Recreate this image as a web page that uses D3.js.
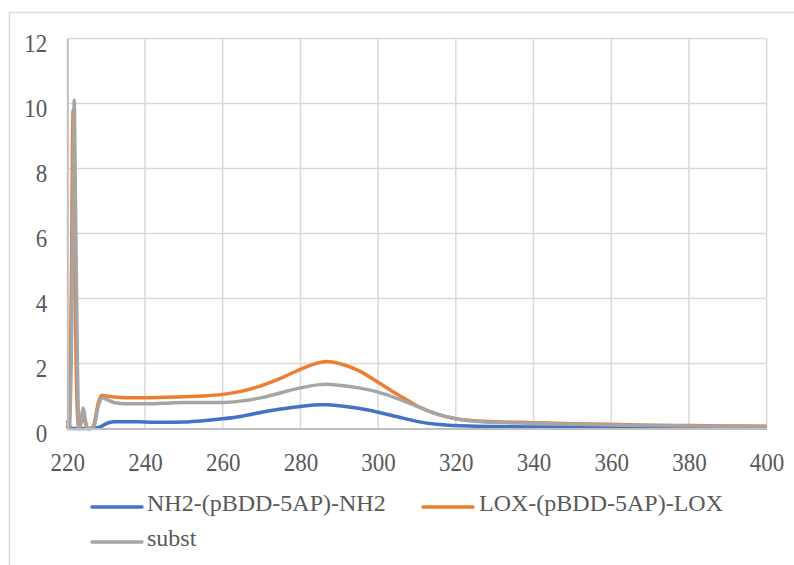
<!DOCTYPE html>
<html>
<head>
<meta charset="utf-8">
<script src="https://cdn.jsdelivr.net/npm/d3@7"></script>
<style>
  body { margin: 0; background: #fff; }
</style>
</head>
<body>
<div id="chart"></div>
<script>
// wavelength (nm)
const wavelengths = [220, 220.5, 221, 221.5, 221.8, 222, 222.6, 223, 223.6, 224.1, 224.6, 225.2, 226, 226.8,
  228, 229, 230, 232, 235, 240, 245, 250, 255, 260, 265, 270, 275, 280, 285, 287, 290, 295,
  300, 305, 310, 315, 320, 325, 330, 340, 350, 360, 370, 380, 390, 400];

const nh2 = [0.25, 0.1, 0, 0, 0, 0, 0, 0, 0, 0, 0, 0, 0, 0.02,
  0.03, 0.08, 0.15, 0.21, 0.21, 0.2, 0.19, 0.2, 0.24, 0.3, 0.38, 0.5, 0.6, 0.68, 0.73, 0.73, 0.7, 0.62,
  0.5, 0.36, 0.22, 0.13, 0.09, 0.07, 0.06, 0.05, 0.05, 0.05, 0.04, 0.04, 0.04, 0.04];

const lox = [0, 0.5, 4, 9.8, 8.5, 5, 0.5, 0, 0.2, 0.4, 0.2, 0, 0, 0.1,
  0.8, 1.02, 1.0, 0.97, 0.95, 0.95, 0.96, 0.98, 1.0, 1.05, 1.15, 1.32, 1.55, 1.82, 2.03, 2.06, 2.0, 1.78,
  1.42, 1.05, 0.7, 0.45, 0.3, 0.24, 0.21, 0.18, 0.15, 0.13, 0.1, 0.09, 0.08, 0.07];

const subst = [0, 0, 2, 7.1, 10.1, 8.1, 2, 0, 0.3, 0.63, 0.3, 0, 0, 0.05,
  0.7, 0.95, 0.9, 0.8, 0.76, 0.76, 0.78, 0.8, 0.8, 0.8, 0.85, 0.95, 1.1, 1.25, 1.35, 1.36, 1.33, 1.25,
  1.12, 0.92, 0.68, 0.45, 0.3, 0.22, 0.19, 0.16, 0.13, 0.11, 0.09, 0.08, 0.07, 0.06];

const xTicks = [220, 240, 260, 280, 300, 320, 340, 360, 380, 400];
const yTicks = [0, 2, 4, 6, 8, 10, 12];

const series = [
  { name: "NH2-(pBDD-5AP)-NH2", values: nh2, color: "#4472c4" },
  { name: "LOX-(pBDD-5AP)-LOX", values: lox, color: "#ed7d31" },
  { name: "subst", values: subst, color: "#a5a5a5" }
];

const FONT = "'Liberation Serif', 'Times New Roman', serif";
const W = 794, H = 565;
const margin = { top: 38.5, left: 67.3, right: 27.4, bottom: 136.5 };
const width = W - margin.left - margin.right;
const height = H - margin.top - margin.bottom;

const svg = d3.select("#chart").append("svg")
  .attr("width", W)
  .attr("height", H);

// outer chart frame
svg.append("rect")
  .attr("x", 9.5).attr("y", 12.5)
  .attr("width", 820).attr("height", 600)
  .attr("fill", "none")
  .attr("stroke", "#d9d9d9")
  .attr("stroke-width", 1.5);

const g = svg.append("g")
  .attr("transform", "translate(" + margin.left + "," + margin.top + ")");

const x = d3.scaleLinear().domain([220, 400]).range([0, width]);
const y = d3.scaleLinear().domain([0, 12]).range([height, 0]);

// gridlines
g.append("g")
  .selectAll("line")
  .data(yTicks.slice(1))
  .enter().append("line")
  .attr("x1", 0).attr("x2", width)
  .attr("y1", d => y(d)).attr("y2", d => y(d))
  .attr("stroke", "#d9d9d9").attr("stroke-width", 1.5);

g.append("g")
  .selectAll("line")
  .data(xTicks.slice(1))
  .enter().append("line")
  .attr("x1", d => x(d)).attr("x2", d => x(d))
  .attr("y1", 0).attr("y2", height)
  .attr("stroke", "#d9d9d9").attr("stroke-width", 1.5);

// lines
const line = d3.line()
  .curve(d3.curveMonotoneX)
  .x((d, i) => x(wavelengths[i]))
  .y(d => y(d));

series.forEach(s => {
  g.append("path")
    .datum(s.values)
    .attr("fill", "none")
    .attr("stroke", s.color)
    .attr("stroke-width", 3.5)
    .attr("stroke-linejoin", "round")
    .attr("d", line);
});

// axes (labels stretched a little vertically, as in the original export)
const xAxis = g.append("g")
  .attr("transform", "translate(0," + height + ")")
  .call(d3.axisBottom(x).tickValues(xTicks).tickSize(0));
xAxis.attr("font-family", null).attr("font-size", null);
xAxis.select(".domain").attr("stroke", "#bfbfbf").attr("stroke-width", 2);
xAxis.selectAll("text")
  .style("font-family", FONT).style("font-size", "23px").attr("fill", "#595959")
  .attr("y", 0).attr("dy", 0)
  .attr("transform", "translate(0,42.5) scale(1,1.1)");

const yAxis = g.append("g")
  .call(d3.axisLeft(y).tickValues(yTicks).tickSize(0).tickPadding(20));
yAxis.attr("font-family", null).attr("font-size", null);
yAxis.select(".domain").attr("stroke", "#bfbfbf").attr("stroke-width", 2);
yAxis.selectAll("text")
  .style("font-family", FONT).style("font-size", "23px").attr("fill", "#595959")
  .attr("dy", 0)
  .attr("transform", "translate(0,12.5) scale(1,1.1)");

// legend
const legendPos = [
  { lx: 92, ly: 507, tx: 147 },
  { lx: 423, ly: 507, tx: 479 },
  { lx: 92, ly: 542, tx: 147 }
];

series.forEach((s, i) => {
  const p = legendPos[i];
  svg.append("line")
    .attr("x1", p.lx).attr("x2", p.lx + 50)
    .attr("y1", p.ly).attr("y2", p.ly)
    .attr("stroke", s.color)
    .attr("stroke-width", 3.5)
    .attr("stroke-linecap", "round");
  svg.append("text")
    .attr("x", p.tx).attr("y", p.ly + 4)
    .style("font-family", FONT)
    .style("font-size", "24px")
    .attr("fill", "#595959")
    .text(s.name);
});
</script>
</body>
</html>
